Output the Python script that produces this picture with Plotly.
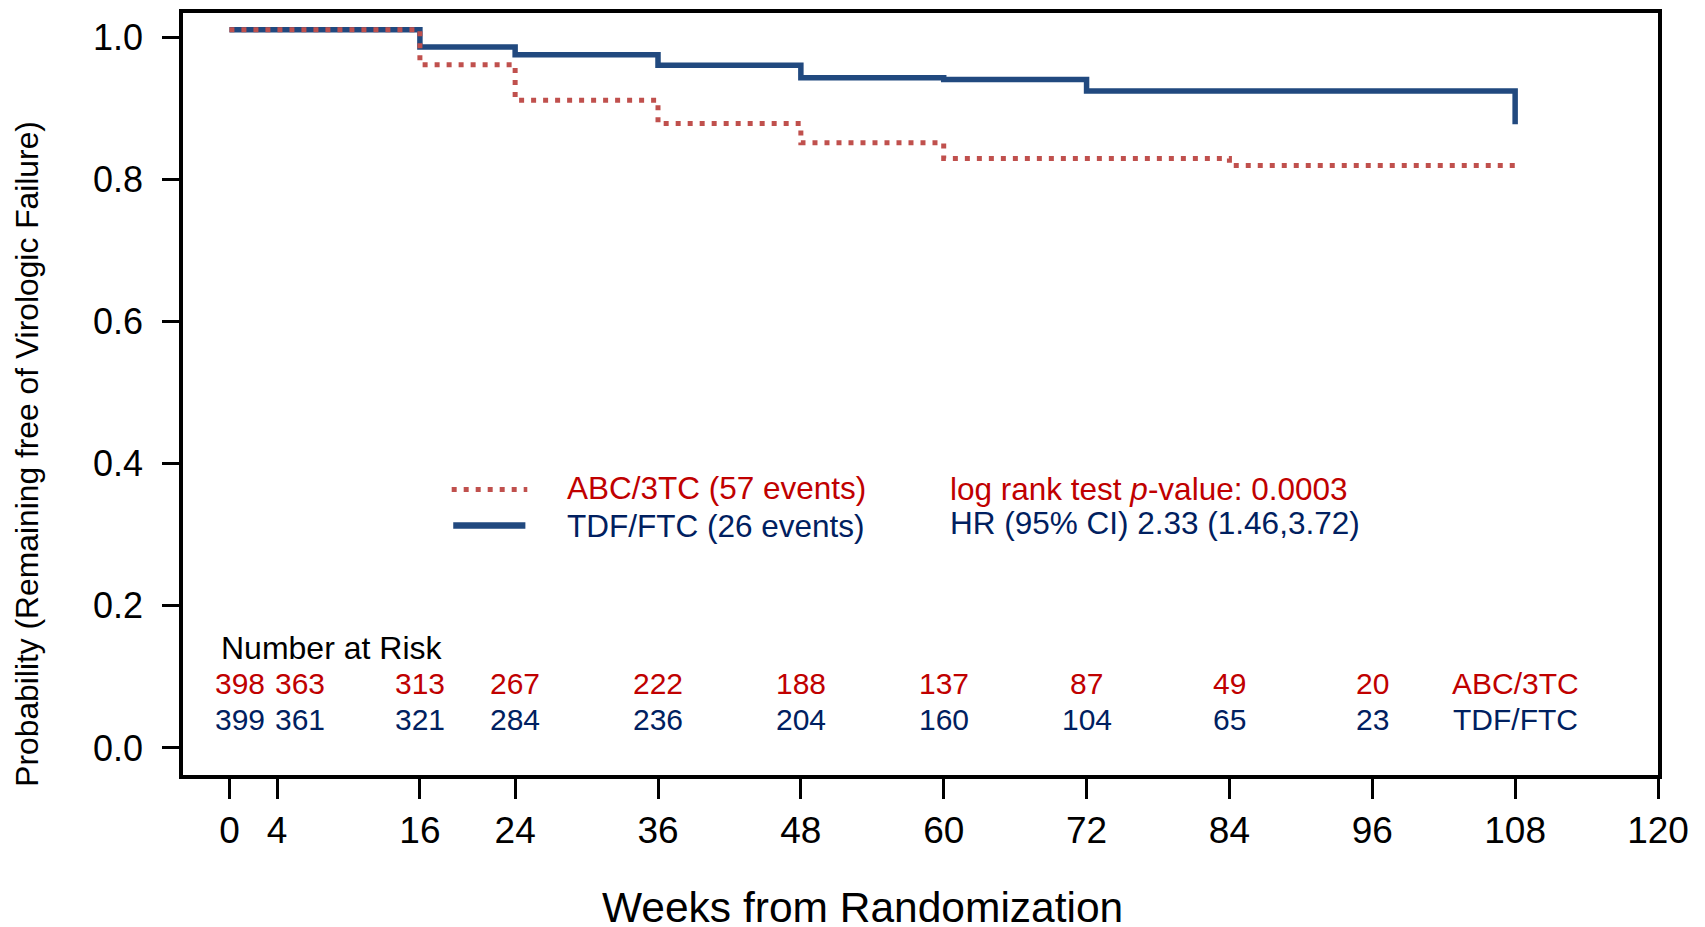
import plotly.graph_objects as go

# ---------------- data ----------------
abc_weeks = [0, 16, 24, 36, 48, 60, 84, 108]
abc_surv = [1.011, 0.962, 0.912, 0.879, 0.852, 0.830, 0.820, 0.820]
tdf_weeks = [0, 16, 24, 36, 48, 60, 72, 108]
tdf_surv = [1.011, 0.987, 0.976, 0.961, 0.9435, 0.941, 0.925, 0.878]

x_ticks = [0, 4, 16, 24, 36, 48, 60, 72, 84, 96, 108, 120]
y_ticks = [0.0, 0.2, 0.4, 0.6, 0.8, 1.0]
y_ticklabels = ["0.0", "0.2", "0.4", "0.6", "0.8", "1.0"]

risk_weeks = [0, 4, 16, 24, 36, 48, 60, 72, 84, 96]
risk_abc = [398, 363, 313, 267, 222, 188, 137, 87, 49, 20]
risk_tdf = [399, 361, 321, 284, 236, 204, 160, 104, 65, 23]
risk_label_week = 108

abc_name = "ABC/3TC"
tdf_name = "TDF/FTC"
abc_events = 57
tdf_events = 26
pvalue_text = "log rank test <i>p</i>-value: 0.0003"
hr_text = "HR (95% CI) 2.33 (1.46,3.72)"

# ---------------- styles ----------------
FONT = "Liberation Sans, Arial, Helvetica, sans-serif"
RED_LINE = "#C0504D"
BLUE_LINE = "#21497F"
RED_TEXT = "#C00000"
BLUE_TEXT = "#002060"
RED_DASH = "5px,7px"

fig = go.Figure()

fig.add_trace(go.Scatter(x=tdf_weeks, y=tdf_surv, mode="lines", line_shape="hv",
                         line=dict(color=BLUE_LINE, width=5.5), showlegend=False, hoverinfo="skip"))
fig.add_trace(go.Scatter(x=abc_weeks, y=abc_surv, mode="lines", line_shape="hv",
                         line=dict(color=RED_LINE, width=5, dash=RED_DASH), showlegend=False, hoverinfo="skip"))

# legend samples (drawn manually)
leg_x_red = [18.67, 25.02]
leg_x_blue = [18.8, 24.86]
leg_y_red = 0.364
leg_y_blue = 0.313
fig.add_trace(go.Scatter(x=leg_x_red, y=[leg_y_red] * 2, mode="lines",
                         line=dict(color=RED_LINE, width=5, dash=RED_DASH), showlegend=False, hoverinfo="skip"))
fig.add_trace(go.Scatter(x=leg_x_blue, y=[leg_y_blue] * 2, mode="lines",
                         line=dict(color=BLUE_LINE, width=6.5), showlegend=False, hoverinfo="skip"))

ann = []
LEG_SIZE = 31.5
ann.append(dict(x=28.15, y=0.366, text=f"{abc_name} ({abc_events} events)", xanchor="left", yanchor="middle",
                font=dict(size=LEG_SIZE, color=RED_TEXT)))
ann.append(dict(x=28.15, y=0.313, text=f"{tdf_name} ({tdf_events} events)", xanchor="left", yanchor="middle",
                font=dict(size=LEG_SIZE, color=BLUE_TEXT)))
ann.append(dict(x=60.36, y=0.365, text=pvalue_text, xanchor="left", yanchor="middle",
                font=dict(size=LEG_SIZE, color=RED_TEXT)))
ann.append(dict(x=60.36, y=0.316, text=hr_text, xanchor="left", yanchor="middle",
                font=dict(size=LEG_SIZE, color=BLUE_TEXT)))

# number at risk table
RISK_SIZE = 30
ann.append(dict(x=-0.87, y=0.141, text="Number at Risk", xanchor="left", yanchor="middle",
                font=dict(size=32, color="black")))
shifts = [11, 23] + [0] * (len(risk_weeks) - 2)
for w, a, t, s in zip(risk_weeks, risk_abc, risk_tdf, shifts):
    ann.append(dict(x=w, y=0.091, text=str(a), xanchor="center", yanchor="middle", xshift=s,
                    font=dict(size=RISK_SIZE, color=RED_TEXT)))
    ann.append(dict(x=w, y=0.040, text=str(t), xanchor="center", yanchor="middle", xshift=s,
                    font=dict(size=RISK_SIZE, color=BLUE_TEXT)))
ann.append(dict(x=risk_label_week, y=0.091, text=abc_name, xanchor="center", yanchor="middle",
                font=dict(size=RISK_SIZE, color=RED_TEXT)))
ann.append(dict(x=risk_label_week, y=0.040, text=tdf_name, xanchor="center", yanchor="middle",
                font=dict(size=RISK_SIZE, color=BLUE_TEXT)))

for a in ann:
    a.update(xref="x", yref="y", showarrow=False)

# axis titles as annotations
ann.append(dict(x=0.4607, y=-0.1735, xref="paper", yref="paper", text="Weeks from Randomization",
                xanchor="center", yanchor="middle", showarrow=False, font=dict(size=42.5, color="black")))
ann.append(dict(x=-0.1058, y=0.4215, xref="paper", yref="paper",
                text="Probability (Remaining free of Virologic Failure)", textangle=-90,
                xanchor="center", yanchor="middle", showarrow=False, font=dict(size=31.8, color="black")))

# page body has an 8px margin: figure is offset by (8, 8)
fig.update_layout(
    width=1697, height=919,
    margin=dict(l=175, r=47, t=1, b=152),
    paper_bgcolor="white", plot_bgcolor="white",
    font=dict(family=FONT, color="black"),
    annotations=ann,
    showlegend=False,
)
fig.update_xaxes(range=[-3.9, 120], tickmode="array", tickvals=x_ticks, ticktext=[str(v) for v in x_ticks],
                 ticks="outside", ticklen=20, tickwidth=3, tickcolor="black",
                 showline=True, linewidth=3.5, linecolor="black", mirror=True,
                 showgrid=False, zeroline=False, tickfont=dict(size=37, color="black"))
fig.update_yaxes(range=[-0.0381, 1.0347], tickmode="array", tickvals=y_ticks, ticktext=y_ticklabels,
                 ticks="outside", ticklen=17, tickwidth=3, tickcolor="black",
                 showline=True, linewidth=3.5, linecolor="black", mirror=True,
                 showgrid=False, zeroline=False, tickfont=dict(size=36, color="black"),
                 ticklabelstandoff=12)

fig.write_html("out.html")
